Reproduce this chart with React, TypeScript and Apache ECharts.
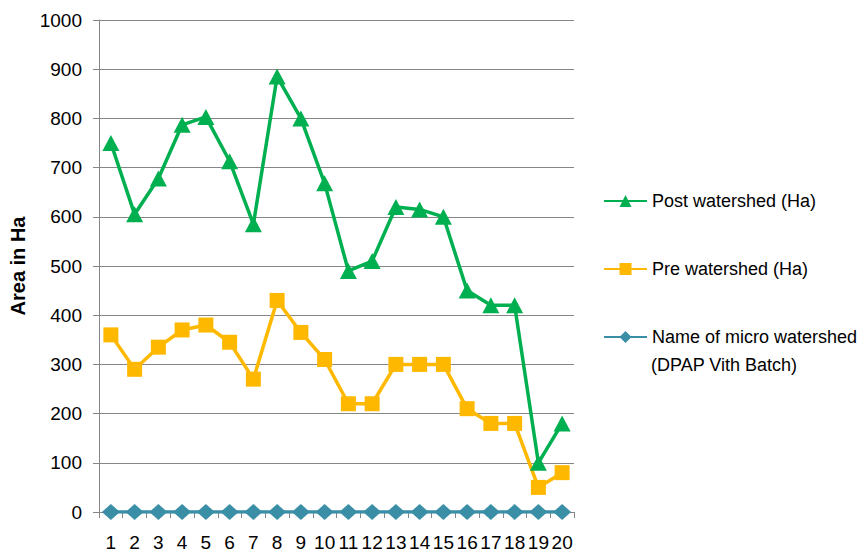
import React, { useEffect, useRef } from "react";
import * as echarts from "echarts";

const categories = ["1","2","3","4","5","6","7","8","9","10","11","12","13","14","15","16","17","18","19","20"];
const postWatershed = [750, 605, 678, 787, 803, 713, 585, 885, 800, 668, 490, 510, 620, 615, 600, 450, 420, 420, 100, 180];
const preWatershed = [360, 290, 335, 370, 380, 345, 270, 430, 365, 310, 220, 220, 300, 300, 300, 210, 180, 180, 50, 80];
const microWatershed = [0, 0, 0, 0, 0, 0, 0, 0, 0, 0, 0, 0, 0, 0, 0, 0, 0, 0, 0, 0];

const POST = "Post watershed (Ha)";
const PRE = "Pre watershed (Ha)";
const MICRO = "Name of micro watershed (DPAP Vith Batch)";
const MICRO_LINE1 = "Name of micro watershed";
const MICRO_LINE2 = "(DPAP Vith Batch)";

const FONT = "Liberation Sans, Arial, sans-serif";

export default function App() {
  const ref = useRef<HTMLDivElement>(null);
  useEffect(() => {
    if (!ref.current) return;
    const chart = echarts.init(ref.current, undefined, { renderer: "svg" });
    const legendText = { fontFamily: FONT, fontSize: 18, color: "#000" };
    const legendBase = {
      orient: "vertical",
      itemWidth: 43,
      itemHeight: 15,
      itemGap: 0,
      padding: 0,
      textStyle: legendText,
    };
    chart.setOption({
      animation: false,
      backgroundColor: "#fff",
      grid: { left: 95, right: 291, top: 20, bottom: 45, containLabel: false },
      legend: [
        { ...legendBase, data: [POST], left: 603, top: 192 },
        { ...legendBase, data: [PRE], left: 603, top: 260 },
        {
          ...legendBase,
          data: [MICRO],
          left: 603,
          top: 328,
          formatter: () => MICRO_LINE1,
        },
      ],
      graphic: [
        {
          type: "text",
          left: 651,
          top: 356,
          style: { text: MICRO_LINE2, fontFamily: FONT, fontSize: 18, fill: "#000" },
        },
      ],
      xAxis: {
        type: "category",
        data: categories,
        boundaryGap: true,
        axisLine: { lineStyle: { color: "#868686", width: 1 } },
        axisTick: { show: true, alignWithLabel: false, length: 6, lineStyle: { color: "#868686" } },
        axisLabel: { fontFamily: FONT, fontSize: 19, color: "#000", margin: 21, interval: 0 },
      },
      yAxis: {
        type: "value",
        min: 0,
        max: 1000,
        interval: 100,
        name: "Area in Ha",
        nameLocation: "middle",
        nameGap: 71,
        nameTextStyle: { fontFamily: FONT, fontSize: 20, fontWeight: "bold", color: "#000" },
        axisLine: { show: true, lineStyle: { color: "#868686", width: 1 } },
        axisTick: { show: true, length: 6, lineStyle: { color: "#868686" } },
        axisLabel: {
          fontFamily: FONT,
          fontSize: 19,
          color: "#000",
          margin: 17,
          formatter: (v: number) => String(v),
        },
        splitLine: { show: true, lineStyle: { color: "#868686", width: 1 } },
      },
      series: [
        {
          name: MICRO,
          type: "line",
          data: microWatershed,
          symbol: "diamond",
          symbolSize: [18, 16],
          lineStyle: { color: "#3A8FA6", width: 3.5 },
          itemStyle: { color: "#3A8FA6" },
          z: 3,
        },
        {
          name: PRE,
          type: "line",
          data: preWatershed,
          symbol: "rect",
          symbolSize: 15,
          lineStyle: { color: "#FFB800", width: 3.5 },
          itemStyle: { color: "#FFB800" },
          z: 4,
        },
        {
          name: POST,
          type: "line",
          data: postWatershed,
          symbol: "triangle",
          symbolSize: [17, 16],
          lineStyle: { color: "#00B050", width: 3.5 },
          itemStyle: { color: "#00B050" },
          z: 5,
        },
      ],
    });
    return () => chart.dispose();
  }, []);
  return <div ref={ref} style={{ width: 865, height: 557, position: "absolute", left: 0, top: 0 }} />;
}
